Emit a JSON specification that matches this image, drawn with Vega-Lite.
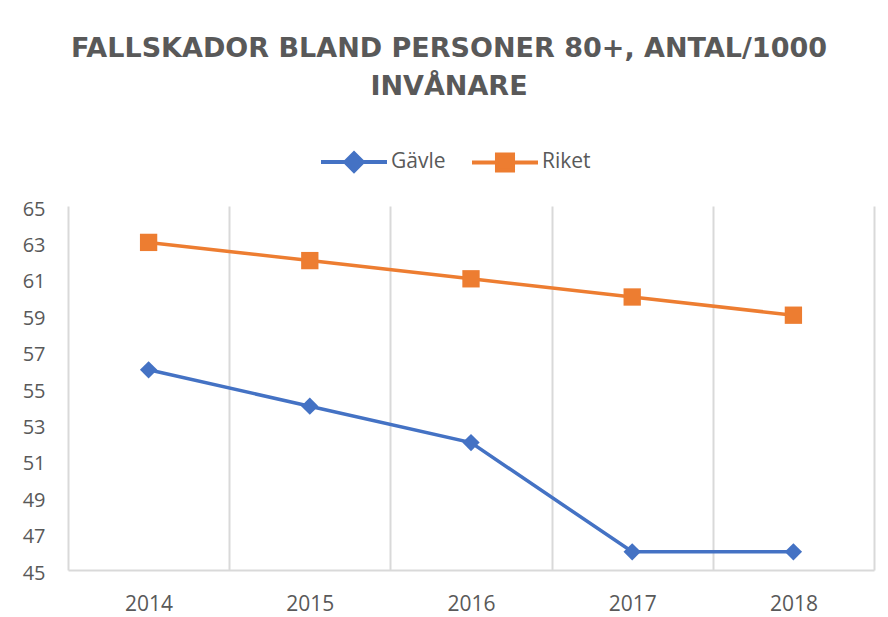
{
  "$schema": "https://vega.github.io/schema/vega-lite/v6.json",
  "width": 806,
  "height": 364,
  "autosize": {"type": "none"},
  "padding": {"left": 68, "top": 206, "right": 14, "bottom": 47},
  "background": "white",
  "config": {"view": {"stroke": null}, "font": "Open Sans"},
  "title": {
    "text": ["FALLSKADOR BLAND PERSONER 80+, ANTAL/1000", "INVÅNARE"],
    "font": "DejaVu Sans",
    "fontSize": 27,
    "fontWeight": "bold",
    "color": "#595959",
    "anchor": "middle",
    "frame": "group",
    "dx": -22,
    "offset": 48,
    "lineHeight": 38
  },
  "data": {
    "values": [
      {"year": 2014, "series": "Gävle", "value": 56},
      {"year": 2015, "series": "Gävle", "value": 54},
      {"year": 2016, "series": "Gävle", "value": 52},
      {"year": 2017, "series": "Gävle", "value": 46},
      {"year": 2018, "series": "Gävle", "value": 46},
      {"year": 2014, "series": "Riket", "value": 63},
      {"year": 2015, "series": "Riket", "value": 62},
      {"year": 2016, "series": "Riket", "value": 61},
      {"year": 2017, "series": "Riket", "value": 60},
      {"year": 2018, "series": "Riket", "value": 59}
    ]
  },
  "encoding": {
    "x": {
      "field": "year",
      "type": "quantitative",
      "scale": {"domain": [2013.5, 2018.5], "nice": false, "zero": false},
      "axis": {
        "title": null,
        "values": [2013.5, 2014, 2014.5, 2015, 2015.5, 2016, 2016.5, 2017, 2017.5, 2018, 2018.5],
        "labelExpr": "datum.value % 1 === 0 ? format(datum.value, 'd') : ''",
        "labelOverlap": false,
        "labelFlush": false,
        "labelFont": "Open Sans",
        "labelFontSize": 21,
        "labelColor": "#595959",
        "labelPadding": 23,
        "ticks": false,
        "grid": true,
        "gridColor": "#d9d9d9",
        "gridWidth": 2,
        "gridOpacity": {"condition": {"test": "datum.value % 1 === 0", "value": 0}, "value": 1},
        "domain": true,
        "domainColor": "#d9d9d9",
        "domainWidth": 2
      }
    },
    "y": {
      "field": "value",
      "type": "quantitative",
      "scale": {"domain": [45, 65], "nice": false, "zero": false},
      "axis": {
        "title": null,
        "values": [45, 47, 49, 51, 53, 55, 57, 59, 61, 63, 65],
        "labelFont": "Open Sans",
        "labelFontSize": 20,
        "labelColor": "#595959",
        "labelPadding": 23,
        "labelOffset": 3,
        "ticks": false,
        "grid": false,
        "domain": false
      }
    }
  },
  "layer": [
    {
      "mark": {"type": "line", "strokeWidth": 3.5},
      "encoding": {
        "stroke": {
          "field": "series",
          "type": "nominal",
          "scale": {"domain": ["Gävle", "Riket"], "range": ["#4472C4", "#ED7D31"]}
        }
      }
    },
    {
      "mark": {"type": "point", "filled": true, "size": 300, "opacity": 1},
      "encoding": {
        "fill": {
          "field": "series",
          "type": "nominal",
          "scale": {"domain": ["Gävle", "Riket"], "range": ["#4472C4", "#ED7D31"]}
        },
        "shape": {"condition": {"test": "datum.series === 'Gävle'", "value": "diamond"}, "value": "square"}
      }
    },
    {
      "transform": [{"filter": "false"}],
      "mark": {"type": "point", "filled": true, "opacity": 1},
      "encoding": {
        "fill": {
          "field": "series",
          "type": "nominal",
          "scale": {"domain": ["Gävle", "Riket"], "range": ["#4472C4", "#ED7D31"]},
          "legend": {"orient": "none", "legendX": 273, "legendY": -57, "direction": "horizontal", "title": null, "symbolSize": 484, "symbolStrokeWidth": 4, "symbolOpacity": 1, "labelFontSize": 21, "labelColor": "#595959", "labelFont": "Open Sans", "labelOffset": 24, "columnPadding": 18, "padding": 0}
        },
        "stroke": {
          "field": "series",
          "type": "nominal",
          "scale": {"domain": ["Gävle", "Riket"], "range": ["#4472C4", "#ED7D31"]},
          "legend": {"orient": "none", "legendX": 273, "legendY": -57, "direction": "horizontal", "title": null, "symbolSize": 484, "symbolStrokeWidth": 4, "symbolOpacity": 1, "labelFontSize": 21, "labelColor": "#595959", "labelFont": "Open Sans", "labelOffset": 24, "columnPadding": 18, "padding": 0}
        },
        "shape": {
          "field": "series",
          "type": "nominal",
          "scale": {"domain": ["Gävle", "Riket"], "range": ["M-3,0H-0.8M0.8,0H3M-0.8,0L0,-0.8L0.8,0L0,0.8Z", "M-3,0H-0.73M0.73,0H3M-0.73,-0.73H0.73V0.73H-0.73Z"]},
          "legend": {"orient": "none", "legendX": 273, "legendY": -57, "direction": "horizontal", "title": null, "symbolSize": 484, "symbolStrokeWidth": 4, "symbolOpacity": 1, "labelFontSize": 21, "labelColor": "#595959", "labelFont": "Open Sans", "labelOffset": 24, "columnPadding": 18, "padding": 0}
        }
      }
    }
  ]
}
